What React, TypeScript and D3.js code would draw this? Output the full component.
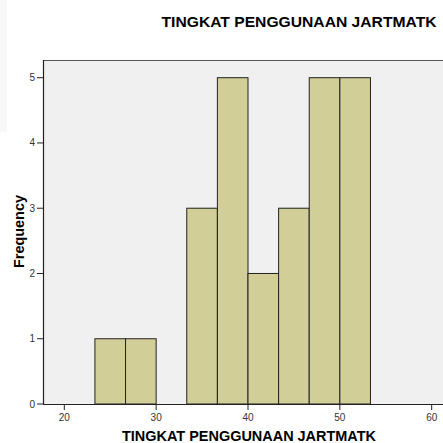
import React from "react";
import * as d3 from "d3";

const binStarts = [23.333, 26.667, 30, 33.333, 36.667, 40, 43.333, 46.667, 50];
const binWidth = 3.3333;
const counts = [1, 1, 0, 3, 5, 2, 3, 5, 5];
const xTicks = [20, 30, 40, 50, 60];
const yTicks = [0, 1, 2, 3, 4, 5];
const title = "TINGKAT PENGGUNAAN JARTMATK";
const xTitle = "TINGKAT PENGGUNAAN JARTMATK";
const yTitle = "Frequency";

export default function App() {
  const W = 443, H = 443;
  const left = 43, top = 60, bottom = 404, right = 443;
  const x = d3.scaleLinear().domain([20, 60]).range([64.3, 431.7]);
  const y = d3.scaleLinear().domain([0, 5]).range([bottom, 77.7]);
  const font = "Liberation Sans, Arial, sans-serif";
  return (
    <svg width={W} height={H} style={{ position: "absolute", left: 0, top: 0 }} fontFamily={font}>
      <rect x={0} y={0} width={W} height={H} fill="#ffffff" />
      <rect x={0} y={0} width={7} height={132} fill="#f8f8f8" />
      <text x={299} y={27} textAnchor="middle" fontSize={15.5} fontWeight="bold" fill="#000"
        textLength={275} lengthAdjust="spacingAndGlyphs">{title}</text>
      <rect x={left} y={top} width={right - left} height={bottom - top} fill="#f0f0f0" />
      <line x1={left} x2={right} y1={top + 0.5} y2={top + 0.5} stroke="#555" strokeWidth={1} />
      {counts.map((c, i) =>
        c > 0 ? (
          <rect key={i} x={x(binStarts[i])} y={y(c)} width={x(binStarts[i] + binWidth) - x(binStarts[i])} height={bottom - y(c)}
            fill="#d2ce98" stroke="#222" strokeWidth={1} />
        ) : null
      )}
      <line x1={left + 0.5} x2={left + 0.5} y1={top} y2={bottom} stroke="#222" strokeWidth={1.2} />
      <line x1={left} x2={right} y1={bottom + 0.5} y2={bottom + 0.5} stroke="#222" strokeWidth={1.2} />
      {yTicks.map((t) => (
        <g key={t}>
          <line x1={37} x2={left} y1={y(t)} y2={y(t)} stroke="#222" strokeWidth={1} />
          <text x={35} y={y(t) + 3.5} textAnchor="end" fontSize={10} fill="#333">{t}</text>
        </g>
      ))}
      {xTicks.map((t) => (
        <g key={t}>
          <line x1={x(t)} x2={x(t)} y1={bottom} y2={bottom + 6} stroke="#222" strokeWidth={1} />
          <text x={x(t)} y={421} textAnchor="middle" fontSize={10} fill="#333">{t}</text>
        </g>
      ))}
      <text x={249} y={441} textAnchor="middle" fontSize={14.5} fontWeight="bold" fill="#000"
        textLength={254} lengthAdjust="spacingAndGlyphs">{xTitle}</text>
      <text transform={`translate(24,231.5) rotate(-90)`} textAnchor="middle" fontSize={14.5} fontWeight="bold" fill="#000"
        textLength={73} lengthAdjust="spacingAndGlyphs">{yTitle}</text>
    </svg>
  );
}
